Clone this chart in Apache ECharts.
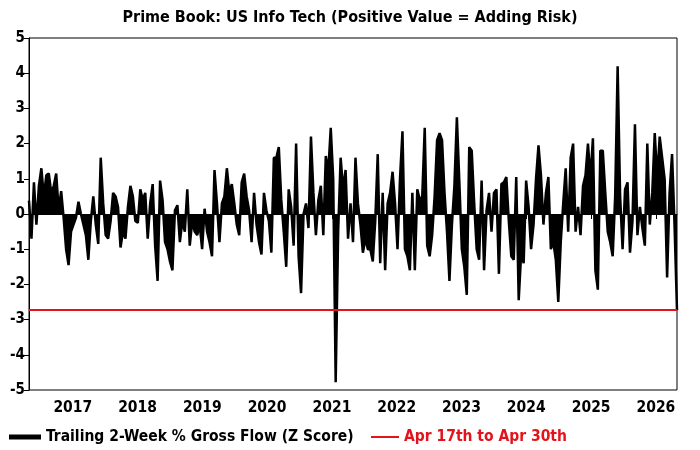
<!DOCTYPE html>
<html>
<head>
<meta charset="utf-8">
<script src="https://cdn.jsdelivr.net/npm/echarts@6/dist/echarts.min.js"></script>
<style>
  html, body { margin: 0; padding: 0; background: #fff; }
  #chart { width: 700px; height: 450px; }
</style>
</head>
<body>
<div id="chart"></div>
<script>
// trailing 2-week gross flow z-score, roughly every two weeks, end of Apr 2016 -> Apr 30 2026
const flow2016_2018 = [0.38, -0.7, 0.9, -0.3, 0.8, 1.3, 0.5, 1.1, 1.15, 0.6, 0.8, 1.15, 0.1, 0.65, -0.1, -1.0, -1.45, -0.5, -0.3, -0.1,
  0.35, 0, -0.3, -0.6, -1.3, -0.2, 0.5, -0.3, -0.85, 1.6, 0.3, -0.6, -0.7, -0.2, 0.6, 0.5, 0.2, -0.95, -0.5, -0.7,
  0.2, 0.8, 0.5, -0.2, -0.25, 0.7, 0.4, 0.6, -0.7, 0.3, 0.85, -0.9, -1.9, 0.95];
const flow2018_2020 = [0.4, -0.8, -1.0, -1.35, -1.6, 0.1, 0.25, -0.8, -0.2, -0.5, 0.7, -0.9, -0.2, -0.5, -0.6, -0.3, -1.0, 0.15, -0.5, -0.8,
  -1.2, 1.25, 0.3, -0.8, 0.3, 0.5, 1.3, 0.6, 0.85, 0.3, -0.3, -0.6, 0.9, 1.15, 0.5, 0.1, -0.8, 0.6, -0.3, -0.8,
  -1.15, 0.6, 0.1, -0.2, -1.1, 1.6, 1.6, 1.9, 0.4, -0.5, -1.5, 0.7];
const flow2020_2022 = [0.2, -0.9, 2.0, -1.2, -2.25, 0, 0.3, -0.4, 2.2, 0.6, -0.6, 0.4, 0.8, -0.6, 1.65, 1.2, 2.45, 1.0, -4.78, -0.5,
  1.6, 0.7, 1.25, -0.7, 0.3, -0.8, 1.6, 0.3, -0.3, -1.1, -0.7, -1.0, -1.0, -1.35, -0.2, 1.7, -1.4, 0.6, -1.6, 0.3,
  0.6, 1.2, 0.3, -1.0, 1.0, 2.35, -1.0, -1.2, -1.6, 0.6, -1.6, 0.7];
const flow2022_2024 = [0.4, 0.5, 2.45, -0.9, -1.2, -0.6, 0.5, 2.1, 2.3, 2.1, 0.6, -0.5, -1.9, -0.3, 0.8, 2.75, 0.9, -1.0, -1.5, -2.3,
  1.9, 1.8, 0.3, -1.0, -1.3, 0.95, -1.6, 0.1, 0.6, -0.5, 0.6, 0.7, -1.7, 0.85, 0.9, 1.05, -0.2, -1.2, -1.3, 1.05,
  -2.45, -1.1, -1.4, 0.95, 0.2, -1.0, -0.3, 1.0, 1.95, 1.1, -0.3, 0.6, 1.05];
const flow2024_2026 = [-1.0, -0.8, -1.3, -2.5, -0.8, 0.3, 1.3, -0.5, 1.6, 2.0, -0.5, 0.2, -0.6, 0.8, 1.1, 2.0, 1.0, 2.15, -1.6, -2.15,
  1.8, 1.8, 0.6, -0.5, -0.8, -1.2, 0.5, 4.2, 0.5, -1.0, 0.7, 0.9, -1.1, -0.2, 2.55, -0.6, 0.2, -0.4, -0.9, 2.0,
  -0.3, 0.6, 2.3, 1.0, 2.2, 1.6, 1.0, -1.8, 0.6, 1.7, -0.3, -2.73];

const latestLevel = -2.73;   // Apr 17th to Apr 30th reading
const years = [2017, 2018, 2019, 2020, 2021, 2022, 2023, 2024, 2025, 2026];
const seriesNames = ['Trailing 2-Week % Gross Flow (Z Score)', 'Apr 17th to Apr 30th'];

const FONT = "'Liberation Sans Narrow', 'DejaVu Sans Condensed', 'Arial Narrow', sans-serif";
const RED = '#e3121b';

const values = [].concat(flow2016_2018, flow2018_2020, flow2020_2022, flow2022_2024, flow2024_2026);
const start = new Date(2016, 3, 29).getTime();
const end = new Date(2026, 3, 30).getTime();
const step = (end - start) / (values.length - 1);
const flowData = values.map((v, i) => [start + i * step, v]);
const yearTicks = years.map(y => new Date(y, 0, 1).getTime());

const legendText = { fontFamily: FONT, fontSize: 15.5, fontWeight: 'bold' };

const chart = echarts.init(document.getElementById('chart'));
chart.setOption({
  animation: false,
  title: {
    text: 'Prime Book: US Info Tech (Positive Value = Adding Risk)',
    left: 'center',
    top: 5,
    textStyle: { fontFamily: FONT, fontSize: 16, fontWeight: 'bold', color: '#000' }
  },
  grid: {
    left: 29, right: 23, top: 38, bottom: 60,
    show: true, borderColor: '#000', borderWidth: 1, backgroundColor: '#fff'
  },
  // two legends so each key line can have its own thickness
  legend: [
    {
      left: 4, top: 424,
      icon: 'rect', itemWidth: 32, itemHeight: 5,
      textStyle: Object.assign({ color: '#000' }, legendText),
      data: [seriesNames[0]]
    },
    {
      left: 366, top: 424,
      icon: 'rect', itemWidth: 28, itemHeight: 2,
      textStyle: Object.assign({ color: RED }, legendText),
      data: [seriesNames[1]]
    }
  ],
  xAxis: {
    type: 'value',
    min: start,
    max: end,
    axisLine: { lineStyle: { color: '#000', width: 1 } },
    axisTick: { show: true, length: 5, customValues: yearTicks, lineStyle: { color: '#000' } },
    axisLabel: {
      customValues: yearTicks,
      formatter: v => String(new Date(v).getFullYear()),
      fontFamily: FONT, fontSize: 15.5, fontWeight: 'bold', color: '#000', margin: 10
    },
    splitLine: { show: false }
  },
  yAxis: {
    type: 'value',
    min: -5,
    max: 5,
    interval: 1,
    axisLine: { show: true, lineStyle: { color: '#000', width: 1 } },
    axisTick: { show: true, length: 5, lineStyle: { color: '#000' } },
    axisLabel: { fontFamily: FONT, fontSize: 15, fontWeight: 'bold', color: '#000', margin: 4 },
    splitLine: { show: false }
  },
  series: [
    {
      name: seriesNames[0],
      type: 'line',
      data: flowData,
      symbol: 'none',
      lineStyle: { color: '#000', width: 2.5 },
      itemStyle: { color: '#000' },
      areaStyle: { color: '#000', opacity: 1, origin: 0 },
      z: 2
    },
    {
      name: seriesNames[1],
      type: 'line',
      data: [[start, latestLevel], [end, latestLevel]],
      symbol: 'none',
      lineStyle: { color: RED, width: 2 },
      itemStyle: { color: RED },
      z: 3
    }
  ]
});
</script>
</body>
</html>
